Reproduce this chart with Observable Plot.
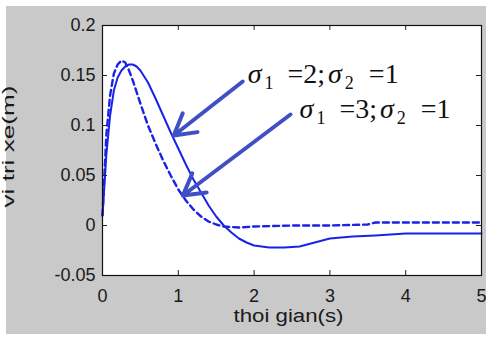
<!DOCTYPE html>
<html>
<head>
<meta charset="utf-8">
<script src="https://cdn.jsdelivr.net/npm/d3@7"></script>
<script src="https://cdn.jsdelivr.net/npm/@observablehq/plot@0.6"></script>
<style>
  html, body { margin: 0; padding: 0; background: #ffffff; }
  #wrap { position: relative; width: 486px; height: 337px; overflow: hidden; }
  #bg { position: absolute; left: 6px; top: 6px; width: 480px; height: 328px; background: #c9c9c9; }
  #chart { position: absolute; left: 0; top: 0; }
</style>
</head>
<body>
<div id="wrap"><div id="bg"></div><div id="chart"></div></div>
<script>
// Time samples and responses
const tSolid = [0, 0.05, 0.1, 0.15, 0.2, 0.25, 0.3, 0.35, 0.4, 0.45, 0.5, 0.6, 0.7, 0.8, 0.9, 1.0, 1.1, 1.2, 1.3, 1.4, 1.5, 1.6, 1.7, 1.8, 1.9, 2.0, 2.2, 2.4, 2.6, 2.8, 3.0, 3.3, 3.6, 4.0, 4.5, 5.0];
const ySolid = [0.01, 0.07, 0.11, 0.135, 0.148, 0.155, 0.159, 0.161, 0.161, 0.159, 0.155, 0.143, 0.127, 0.110, 0.093, 0.077, 0.061, 0.046, 0.033, 0.020, 0.009, 0.000, -0.007, -0.013, -0.017, -0.020, -0.022, -0.022, -0.021, -0.017, -0.013, -0.011, -0.010, -0.008, -0.008, -0.008];
const tDashed = [0, 0.05, 0.1, 0.15, 0.2, 0.25, 0.3, 0.35, 0.4, 0.5, 0.6, 0.7, 0.8, 0.9, 1.0, 1.1, 1.2, 1.3, 1.4, 1.5, 1.6, 1.8, 2.0, 2.5, 3.0, 3.5, 3.6, 4.0, 5.0];
const yDashed = [0.01, 0.09, 0.13, 0.152, 0.161, 0.165, 0.163, 0.155, 0.145, 0.122, 0.100, 0.082, 0.065, 0.050, 0.036, 0.025, 0.016, 0.009, 0.004, 0.001, -0.001, -0.002, -0.001, 0.000, 0.000, 0.001, 0.003, 0.003, 0.003];

// Tick values
const xTicks = [0, 1, 2, 3, 4, 5];
const yTicks = [-0.05, 0, 0.05, 0.1, 0.15, 0.2];

// Annotations
const sigma1 = [2, 3];
const sigma2 = [1, 1];
const labelX = [1.915, 2.6];
const labelY = [0.143, 0.108];
const arrowX1 = [1.85, 2.48];
const arrowY1 = [0.144, 0.111];
const arrowX2 = [0.94, 1.06];
const arrowY2 = [0.090, 0.030];

const xLabel = "thoi gian(s)";
const yLabel = "vi tri xe(m)";

const solid = tSolid.map((t, i) => ({t, y: ySolid[i]}));
const dashed = tDashed.map((t, i) => ({t, y: yDashed[i]}));
const labels = sigma1.map((s, i) => ({x: labelX[i], y: labelY[i], text: `σ1 =${s};σ2 =${sigma2[i]}`, s1: s, s2: sigma2[i]}));
const arrows = arrowX1.map((x1, i) => ({x1, y1: arrowY1[i], x2: arrowX2[i], y2: arrowY2[i]}));

const xDom = [0, 5], yDom = [-0.05, 0.2];
const tickLenX = 5 * (yDom[1] - yDom[0]) / 250;
const tickLenY = 5 * (xDom[1] - xDom[0]) / 379;

const lineColor = "#1a22e8";
const arrowColor = "#3f4fc4";

const plot = Plot.plot({
  width: 486,
  height: 337,
  marginLeft: 102,
  marginRight: 5,
  marginTop: 25,
  marginBottom: 62,
  style: {background: "transparent", fontFamily: "'Liberation Sans', Arial, sans-serif", fontSize: "18px", color: "#1a1a1a"},
  x: {domain: xDom},
  y: {domain: yDom},
  marks: [
    Plot.frame({fill: "white"}),
    Plot.line(solid, {x: "t", y: "y", stroke: lineColor, strokeWidth: 2}),
    Plot.line(dashed, {x: "t", y: "y", stroke: lineColor, strokeWidth: 2.4, strokeDasharray: "6,4"}),
    Plot.arrow(arrows, {x1: "x1", y1: "y1", x2: "x2", y2: "y2", stroke: arrowColor, strokeWidth: 4, headLength: 9, headAngle: 60}),
    Plot.text(labels, {x: "x", y: "y", text: "text", textAnchor: "start", lineAnchor: "bottom", fontFamily: "'Liberation Serif', 'Times New Roman', serif", fontSize: 28, fill: "#111"}),
    // inner tick marks
    Plot.ruleX(xTicks, {x: d => d, y1: yDom[0], y2: yDom[0] + tickLenX, stroke: "#222"}),
    Plot.ruleX(xTicks, {x: d => d, y1: yDom[1], y2: yDom[1] - tickLenX, stroke: "#222"}),
    Plot.ruleY(yTicks, {y: d => d, x1: xDom[0], x2: xDom[0] + tickLenY, stroke: "#222"}),
    Plot.ruleY(yTicks, {y: d => d, x1: xDom[1], x2: xDom[1] - tickLenY, stroke: "#222"}),
    Plot.frame({stroke: "#111", strokeWidth: 1.2}),
    Plot.axisX(xTicks, {tickSize: 0, tickPadding: 14, label: null, tickFormat: d => String(d), fontSize: 18}),
    Plot.axisY(yTicks, {tickSize: 0, tickPadding: 7, label: null, tickFormat: d => String(d), fontSize: 18}),
    Plot.text([xLabel], {frameAnchor: "bottom-left", textAnchor: "start", dx: 131, dy: 46, fontSize: 18, fill: "#1a1a1a"}),
    Plot.text([yLabel], {frameAnchor: "bottom-left", textAnchor: "start", rotate: -90, dx: -89, dy: -68, fontSize: 17, fill: "#1a1a1a"})
  ]
});

document.getElementById("chart").appendChild(plot);

// Stretch axis titles like the reference
d3.select(plot).selectAll("text").each(function() {
  const el = d3.select(this);
  const t = this.textContent;
  if (t === xLabel) el.attr("textLength", 110).attr("lengthAdjust", "spacingAndGlyphs");
  if (t === yLabel) el.attr("textLength", 122).attr("lengthAdjust", "spacingAndGlyphs");
});

// Rich text for the sigma labels: italic sigma with subscripts
let li = 0;
d3.select(plot).selectAll("text").each(function() {
  if (!this.textContent.includes("σ") || this.querySelector("tspan")) return;
  const lab = labels[li++];
  if (!lab) return;
  const el = d3.select(this);
  el.text(null);
  el.append("tspan").attr("font-style", "italic").text("σ");
  el.append("tspan").attr("font-size", 18).attr("dx", 3).attr("dy", 6).text("1");
  el.append("tspan").attr("dx", 7).attr("dy", -6).text(" =");
  el.append("tspan").attr("dx", 0).text(lab.s1 + ";");
  el.append("tspan").attr("dx", 3).attr("font-style", "italic").text("σ");
  el.append("tspan").attr("font-size", 18).attr("dx", 3).attr("dy", 6).text("2");
  el.append("tspan").attr("dx", 8).attr("dy", -6).text(" =");
  el.append("tspan").attr("dx", 0).text(String(lab.s2));
});
</script>
</body>
</html>
